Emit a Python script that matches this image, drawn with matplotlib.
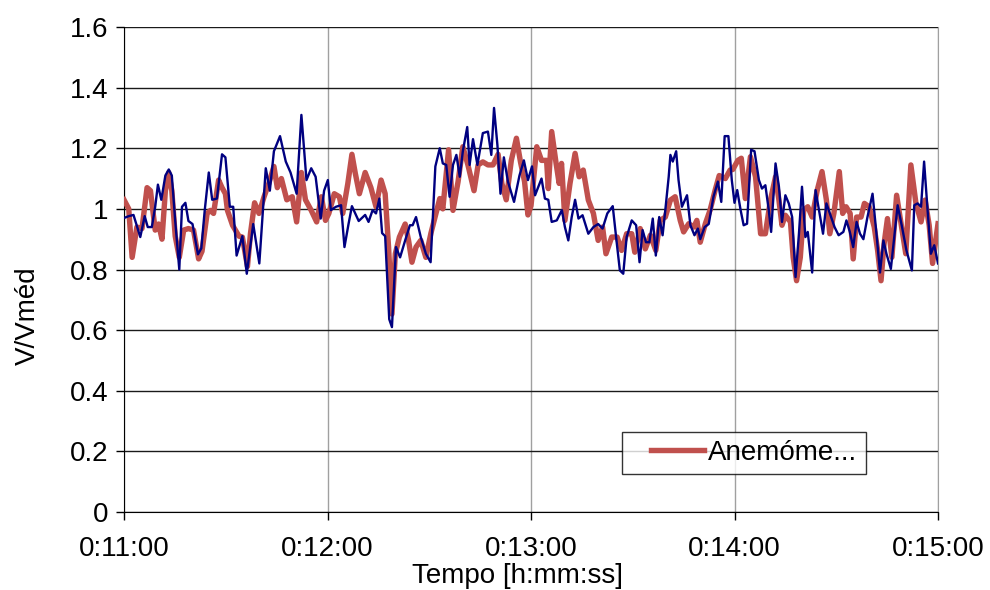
import matplotlib
matplotlib.use('Agg')
import matplotlib.pyplot as plt
from matplotlib.ticker import FuncFormatter
from matplotlib.lines import Line2D
from matplotlib.legend_handler import HandlerLine2D

plt.rcParams['font.family'] = ['Liberation Sans', 'DejaVu Sans']

# seconds after 0:11:00
tBlue = [0, 1.4, 2.8, 4.8, 6.1, 7.0, 8.2, 9.2, 10.0, 11.0, 12.2, 13.2, 14.1, 15.1, 16.3, 17.1, 18.1, 19.0, 20.2, 21.8,
         22.8, 23.8, 25.0, 26.0, 27.4, 28.9, 29.9, 31.2, 32.2, 33.2, 34.9, 36.2, 38.1, 39.9, 41.8, 43.0, 44.2, 46.0, 47.7, 49.1,
         50.9, 52.3, 53.8, 55.2, 56.5, 58.0, 59.0, 60.1, 61.0, 62.5, 64.0, 65.0, 66.2, 67.2, 69.2, 71.1, 72.1, 73.3, 74.3, 75.3,
         76.1, 77.0, 78.2, 79.0, 80.2, 81.4, 82.9, 84.3, 85.1, 86.1, 87.5, 89.0, 90.4, 91.8, 93.1, 94.0, 95.0, 96.0, 97.0, 98.0,
         99.0, 99.9, 101.2, 101.9, 102.9, 104.2, 105.8, 107.3, 108.3, 109.1, 110.1, 111.0, 112.0, 113.2, 115.0, 116.6, 117.9, 119.1, 120.3, 121.2,
         123.1, 124.1, 125.1, 126.1, 127.6, 129.1, 130.0, 131.0, 132.0, 133.0, 134.0, 135.2, 136.9, 138.4, 139.8, 141.1, 142.5, 144.1, 145.2, 146.2,
         147.2, 148.2, 149.7, 151.0, 152.0, 152.9, 153.9, 154.9, 155.9, 156.8, 157.8, 158.8, 159.6, 160.6, 161.1, 161.8, 162.8, 163.5, 164.5, 166.0,
         167.0, 168.2, 169.2, 169.9, 171.2, 172.4, 173.8, 175.1, 176.1, 177.1, 178.2, 179.2, 180.0, 180.8, 181.8, 182.7, 183.7, 184.9, 185.9, 187.2,
         188.1, 189.1, 190.1, 190.8, 192.1, 193.1, 194.0, 195.0, 196.0, 197.0, 198.0, 199.0, 199.9, 200.9, 201.6, 202.9, 203.9, 204.9, 206.1, 207.1,
         208.3, 209.5, 210.7, 212.1, 213.0, 214.0, 215.0, 216.0, 217.0, 218.0, 219.2, 220.7, 221.9, 222.9, 223.9, 224.8, 226.1, 227.1, 228.1, 229.4,
         230.7, 232.3, 233.0, 234.0, 235.0, 235.9, 236.9, 237.9, 238.9, 240.0]
vBlue = [0.97, 0.976, 0.98, 0.907, 0.976, 0.94, 0.94, 1.007, 1.08, 1.03, 1.11, 1.13, 1.11, 0.96, 0.80, 1.007, 1.02, 0.96, 0.95, 0.85,
         0.87, 0.995, 1.12, 1.03, 1.034, 1.18, 1.17, 1.007, 1.007, 0.846, 0.91, 0.786, 0.95, 0.82, 1.134, 1.06, 1.19, 1.24, 1.156, 1.12,
         1.05, 1.31, 1.095, 1.134, 1.106, 0.968, 1.06, 1.095, 0.996, 1.007, 1.012, 0.874, 0.95, 1.009, 0.96, 0.98, 0.957, 0.996, 0.985, 1.034,
         0.92, 0.91, 0.636, 0.61, 0.874, 0.84, 0.896, 0.946, 0.946, 0.973, 0.907, 0.852, 0.824, 1.14, 1.2, 1.15, 1.145, 1.04, 1.145, 1.178,
         1.106, 1.19, 1.27, 1.145, 1.23, 1.145, 1.25, 1.255, 1.178, 1.333, 1.21, 1.05, 1.17, 1.09, 1.023, 1.11, 1.16, 1.095, 1.14, 1.045,
         1.1, 1.034, 1.03, 0.957, 0.962, 0.996, 0.94, 0.896, 0.973, 1.03, 0.968, 0.979, 0.918, 0.94, 0.95, 0.935, 0.985, 1.009, 0.896, 0.797,
         0.786, 0.907, 0.962, 0.946, 0.824, 0.93, 0.89, 0.89, 0.968, 0.846, 0.973, 0.913, 0.996, 1.106, 1.178, 1.156, 1.19, 1.095, 1.007, 1.045,
         0.946, 0.913, 0.935, 0.90, 0.94, 0.95, 1.04, 1.09, 1.023, 1.24, 1.24, 1.095, 1.02, 1.062, 0.996, 0.946, 0.951, 1.195, 1.19, 1.095,
         1.067, 1.078, 0.996, 0.924, 1.15, 1.073, 0.957, 1.045, 1.018, 0.973, 0.775, 0.918, 1.073, 0.907, 0.924, 0.79, 1.062, 0.996, 0.918, 1.018,
         0.979, 0.94, 0.913, 0.924, 0.962, 0.924, 0.874, 0.957, 0.918, 0.90, 0.973, 1.05, 0.913, 0.79, 0.896, 0.852, 0.802, 0.907, 1.012, 0.94,
         0.863, 0.797, 1.012, 1.018, 1.007, 1.156, 1.0, 0.852, 0.88, 0.82]

tRed = [0, 1.4, 2.4, 3.8, 5.3, 6.8, 7.8, 9.2, 10.2, 11.2, 12.2, 13.2, 14.1, 15.1, 16.3, 17.6, 19.0, 20.5, 22.0, 23.0,
        24.5, 25.5, 26.4, 27.9, 28.9, 29.9, 30.5, 32.0, 33.9, 34.9, 36.4, 37.3, 38.5, 39.8, 41.3, 42.7, 44.2, 45.2, 46.4, 48.0,
        49.6, 50.9, 52.3, 53.5, 55.2, 56.8, 58.2, 59.4, 60.4, 62.0, 63.5, 64.5, 66.0, 67.2, 68.2, 69.4, 71.1, 72.8, 74.3, 75.8,
        77.0, 78.0, 79.0, 80.0, 81.2, 82.9, 83.9, 84.9, 86.1, 87.5, 89.0, 90.5, 91.1, 93.1, 94.0, 95.7, 97.0, 98.5, 99.9, 101.4,
        103.2, 104.4, 105.8, 107.3, 108.8, 110.3, 111.4, 112.7, 114.2, 115.7, 116.9, 118.1, 119.1, 120.0, 121.7, 123.1, 124.6, 125.1, 126.1, 127.4,
        128.3, 129.0, 130.0, 131.5, 133.0, 134.2, 135.4, 136.9, 138.4, 139.8, 141.1, 142.1, 143.8, 145.4, 146.7, 148.2, 149.7, 150.6, 152.2, 153.7,
        155.2, 156.8, 158.1, 159.6, 161.1, 162.5, 164.0, 165.0, 166.5, 168.0, 168.9, 169.9, 171.4, 172.8, 174.3, 175.5, 177.3, 178.7, 179.5, 181.0,
        182.0, 183.2, 184.7, 186.2, 187.7, 189.1, 190.6, 192.1, 193.1, 194.0, 195.0, 196.5, 197.3, 198.3, 199.4, 200.4, 201.6, 202.9, 204.4, 205.8,
        207.1, 208.1, 209.3, 210.9, 211.9, 212.9, 214.1, 215.0, 216.0, 217.3, 218.3, 219.7, 221.2, 222.2, 223.2, 224.1, 225.1, 226.4, 227.8, 229.1,
        230.5, 232.0, 233.5, 235.0, 236.2, 237.4, 238.4, 240.0]
vRed = [1.03, 1.0, 0.84, 0.94, 0.935, 1.07, 1.06, 0.93, 0.95, 0.90, 1.06, 1.12, 1.06, 0.91, 0.84, 0.93, 0.935, 0.93, 0.835, 0.86,
        0.985, 0.995, 0.985, 1.095, 1.07, 1.05, 0.995, 0.946, 0.91, 0.907, 0.81, 0.92, 1.02, 0.985, 1.04, 1.084, 1.14, 1.07, 1.10, 1.03,
        1.04, 0.957, 1.12, 1.03, 0.995, 0.957, 1.04, 0.962, 0.985, 1.05, 1.04, 0.985, 1.084, 1.18, 1.117, 1.05, 1.12, 1.07, 1.007, 1.095,
        1.05, 0.874, 0.653, 0.852, 0.907, 0.95, 0.896, 0.824, 0.874, 0.896, 0.84, 0.92, 0.946, 1.034, 1.0, 1.195, 0.995, 1.09, 1.205, 1.145,
        1.06, 1.145, 1.155, 1.145, 1.145, 1.18, 1.084, 1.03, 1.16, 1.233, 1.155, 1.09, 0.98, 1.01, 1.205, 1.16, 1.16, 1.067, 1.255, 1.15,
        1.084, 1.15, 0.962, 1.084, 1.183, 1.106, 1.128, 1.029, 0.985, 0.896, 0.94, 0.852, 0.907, 0.907, 0.863, 0.918, 0.918, 0.857, 0.935, 0.868,
        0.913, 0.863, 0.962, 0.973, 1.029, 1.04, 0.962, 0.924, 0.951, 0.94, 0.962, 0.89, 0.951, 0.996, 1.062, 1.11, 1.10, 1.128, 1.13, 1.16,
        1.167, 1.034, 1.172, 1.106, 0.918, 0.918, 1.029, 1.106, 1.029, 0.946, 0.979, 0.957, 0.84, 0.763, 0.84, 0.996, 1.007, 0.973, 1.062, 1.123,
        1.029, 0.918, 0.985, 1.123, 0.985, 1.007, 0.985, 0.835, 0.973, 0.973, 1.018, 1.007, 0.94, 0.863, 0.763, 0.885, 0.968, 0.84, 1.045, 0.951,
        0.852, 1.145, 1.018, 0.957, 1.029, 0.946, 0.82, 0.951]

startSec = 11 * 60
xTickSecs = [660, 720, 780, 840, 900]
yTicks = [0, 0.2, 0.4, 0.6, 0.8, 1, 1.2, 1.4, 1.6]
yTickLabels = ['0', '0.2', '0.4', '0.6', '0.8', '1', '1.2', '1.4', '1.6']
legendLabel = 'Anemóme...'

fontSize = 20


def hms(s, pos=None):
    s = int(round(s))
    return '%d:%02d:%02d' % (s // 3600, (s % 3600) // 60, s % 60)


fig = plt.figure(figsize=(9.9, 5.9), dpi=100)
ax = fig.add_axes([124 / 990, 1 - 512 / 590, 814 / 990, 485 / 590])

ax.plot([startSec + t for t in tRed], vRed, color='#C0504D', lw=3.9, label=legendLabel, zorder=3)
ax.plot([startSec + t for t in tBlue], vBlue, color='#000080', lw=1.7, zorder=4)

ax.set_xlim(660, 900)
ax.set_ylim(0, 1.6)
ax.set_xticks(xTickSecs)
ax.xaxis.set_major_formatter(FuncFormatter(hms))
ax.set_yticks(yTicks)
ax.set_yticklabels(yTickLabels)

ax.yaxis.grid(True, color='#1a1a1a', lw=1.0)
ax.xaxis.grid(True, color='#a0a0a0', lw=1.0)
ax.set_axisbelow(True)
ax.spines['top'].set_visible(False)
ax.spines['right'].set_color('#a0a0a0')
ax.spines['left'].set_color('black')
ax.spines['bottom'].set_color('black')
ax.tick_params(direction='out', length=6, width=1, labelsize=fontSize, pad=5)
ax.tick_params(axis='x', pad=11)

ax.set_xlabel('Tempo [h:mm:ss]', fontsize=fontSize)
ax.set_ylabel('V/Vméd', fontsize=fontSize)
ax.xaxis.set_label_coords(0.483, -0.105)
ax.yaxis.set_label_coords(-0.102, 0.404)

# line in the legend box sits away from the left border
leg = ax.legend(loc='lower left', bbox_to_anchor=(0.612, 0.078), borderaxespad=0,
                frameon=True, fancybox=False, fontsize=fontSize, borderpad=0.3,
                handlelength=2.63, handletextpad=0.17,
                handler_map={Line2D: HandlerLine2D(xpad=0.72)})
leg.get_frame().set_edgecolor('black')
leg.get_frame().set_linewidth(1.0)

fig.savefig('out.png', dpi=100)
